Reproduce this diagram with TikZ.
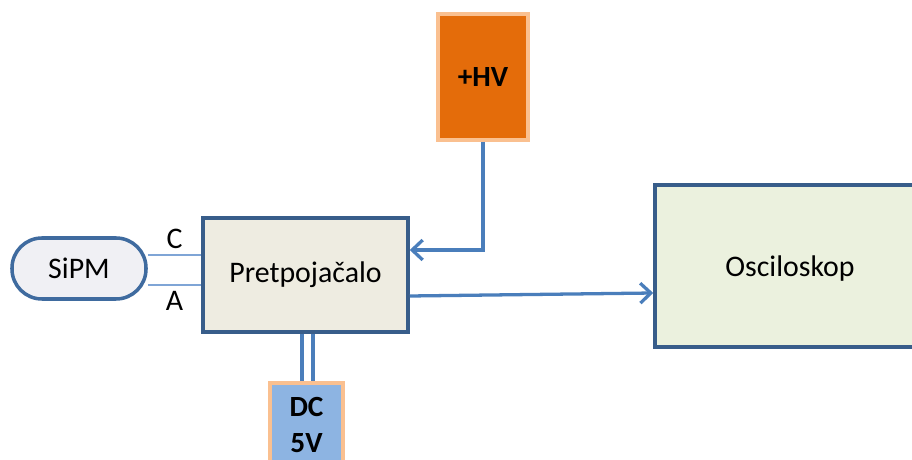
\documentclass[tikz,border=0pt]{standalone}
\usepackage{fontspec}
\setmainfont{Carlito}
\usetikzlibrary{arrows.meta}
\definecolor{rub}{HTML}{385D8A}
\definecolor{veza}{HTML}{4A7EBB}
\definecolor{tanko}{HTML}{7FA5D6}
\definecolor{narancasta}{HTML}{E46C0A}
\definecolor{breskva}{HTML}{FAC090}
\begin{document}
\begin{tikzpicture}[x=0.03cm, y=-0.03cm,
    font=\fontsize{25.5}{30}\selectfont,
    kutija/.style={draw=rub, line width=3pt, inner sep=0pt},
    napon/.style={draw=breskva, line width=3.2pt, inner sep=0pt, align=center, font=\fontsize{25}{31}\selectfont\bfseries},
    vod/.style={veza, line width=2.8pt},
    >={Straight Barb[length=9pt, width=17pt, line width=2.8pt]}]
    \clip (0,0) rectangle (912,460);
    \fill[white] (0,0) rectangle (912,460);
    %Kutije
    \node[kutija, draw=veza!85!black, fill={rgb,255:red,240;green,240;blue,244}, rounded corners=0.9cm, minimum width=4.02cm, minimum height=1.83cm] (sipm) at (79,268.5) {SiPM};
    \node[kutija, fill={rgb,255:red,238;green,236;blue,225}, minimum width=6.15cm, minimum height=3.42cm] (pojacalo) at (305.5,275) {Pretpojačalo};
    \node[kutija, fill={rgb,255:red,235;green,241;blue,222}, minimum width=8.1cm, minimum height=4.86cm, text depth=-4pt] (osc) at (790,266) {Osciloskop};
    \node[napon, fill=narancasta, minimum width=2.7cm, minimum height=3.78cm] (hv) at (483,77) {+HV};
    \node[napon, fill={rgb,255:red,141;green,180;blue,226}, minimum width=2.19cm, minimum height=2.52cm] (dc) at (306.5,425) {DC\\5V};
    
    %Vodovi
    \draw[tanko, line width=1.6pt] (sipm.east |- 0,255) -- (pojacalo.west |- 0,255) node[midway, above=1pt, black] {C};
    \draw[tanko, line width=1.6pt] (sipm.east |- 0,285) -- (pojacalo.west |- 0,285) node[midway, below=1pt, black] {A};
    \draw[vod, ->] (hv.south) -- (hv.south |- 0,250) -- (pojacalo.east |- 0,250);
    \draw[vod, ->] (pojacalo.east |- 0,296) -- (osc.west |- 0,293);
    \foreach \x in {302, 313} {
        \draw[vod] (pojacalo.south -| \x,0) -- (dc.north -| \x,0);
    }%DC
\end{tikzpicture}
\end{document}
